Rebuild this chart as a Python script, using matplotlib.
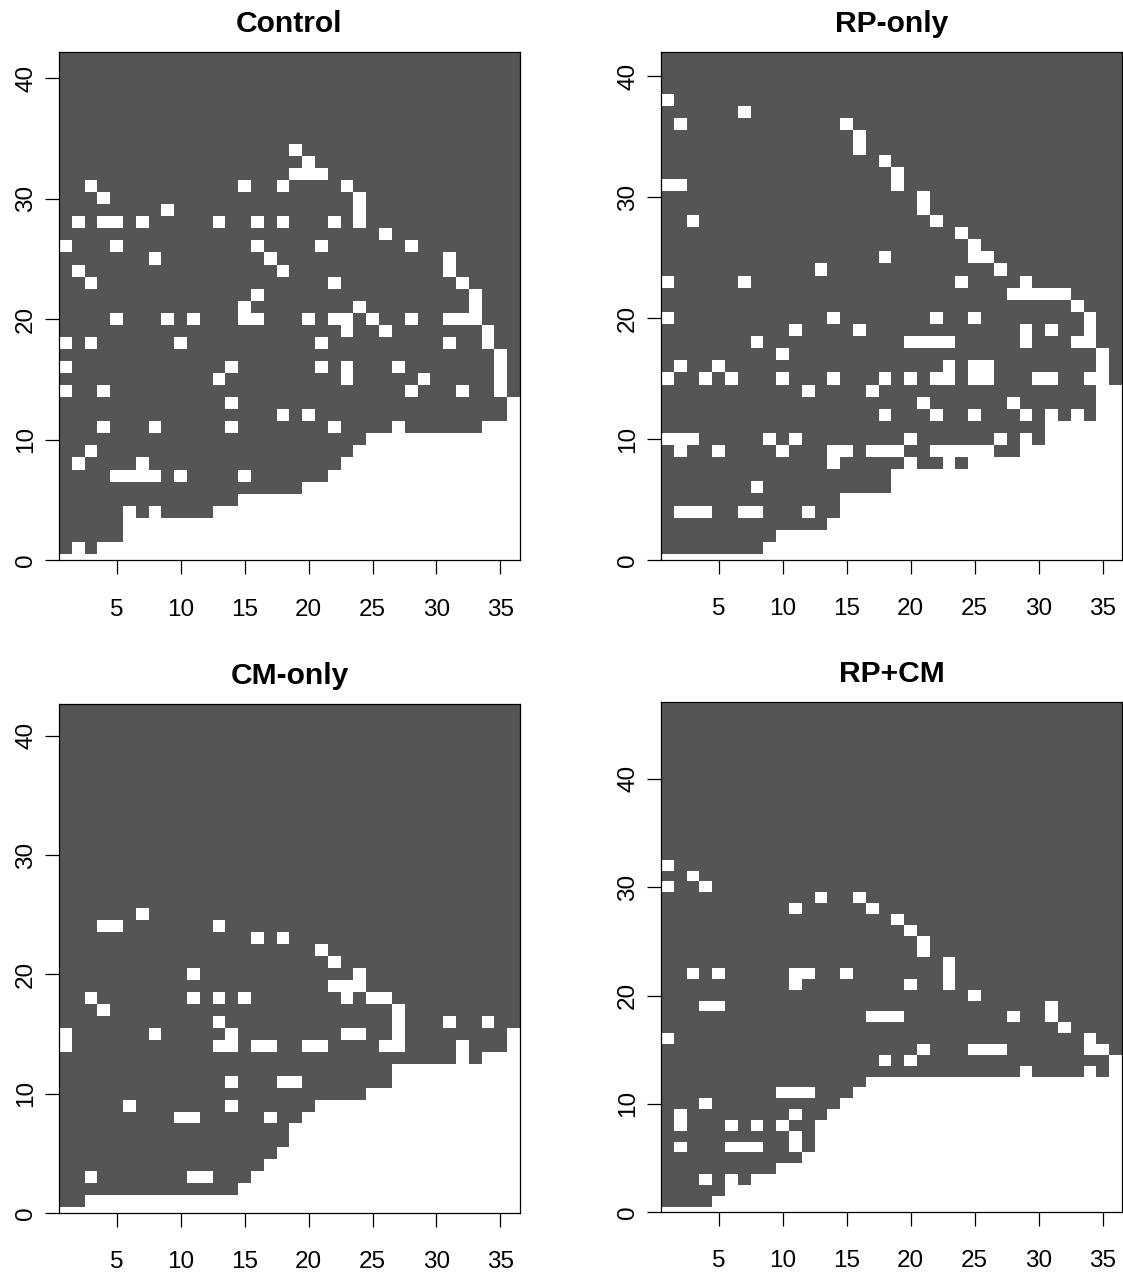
import numpy as np
import matplotlib
matplotlib.use('Agg')
import matplotlib.pyplot as plt
from matplotlib.colors import ListedColormap

plt.rcParams['font.family'] = ['Liberation Sans', 'DejaVu Sans']

# ---------------- data ----------------
titles = ['Control', 'RP-only', 'CM-only', 'RP+CM']
columns = list(range(1, 37))
x_ticks = [5, 10, 15, 20, 25, 30, 35]
y_ticks = [0, 10, 20, 30, 40]

# lowest dark row of each column (rows below it are white)
control_floor = [1, 2, 1, 2, 2, 5, 4, 5, 4, 4, 4, 4, 5, 5, 6, 6, 6, 6,
                 6, 7, 7, 8, 9, 10, 11, 11, 12, 11, 11, 11, 11, 11, 11, 12, 12, 14]
# white cells inside the dark region: column -> rows
control_holes = {
    1: [14, 16, 18, 26], 2: [8, 24, 28], 3: [9, 18, 23, 31], 4: [11, 14, 28, 30],
    5: [7, 20, 26, 28], 6: [7], 7: [7, 8, 28], 8: [7, 11, 25], 9: [20, 29],
    10: [7, 18], 11: [20], 13: [15, 28], 14: [11, 13, 16], 15: [7, 20, 21, 31],
    16: [20, 22, 26, 28], 17: [25], 18: [12, 24, 28, 31], 19: [32, 34],
    20: [12, 20, 32, 33], 21: [16, 18, 26, 32], 22: [11, 20, 23, 28],
    23: [15, 16, 19, 20, 31], 24: [21, 28, 29, 30], 25: [20], 26: [19, 27],
    27: [16], 28: [14, 20, 26], 29: [15], 31: [18, 20, 24, 25], 32: [14, 20, 23],
    33: [20, 21, 22], 34: [18, 19], 35: [14, 15, 16, 17],
}

rp_floor = [1, 1, 1, 1, 1, 1, 1, 1, 2, 3, 3, 3, 3, 4, 6, 6, 6, 6,
            8, 9, 8, 8, 10, 8, 10, 10, 9, 9, 11, 10, 13, 12, 13, 12, 18, 15]
rp_holes = {
    1: [10, 15, 20, 23, 31, 38], 2: [4, 9, 10, 16, 31, 36], 3: [4, 10, 28],
    4: [4, 15], 5: [9, 16], 6: [15], 7: [4, 23, 37], 8: [4, 6, 18], 9: [10],
    10: [9, 15, 17], 11: [10, 19], 12: [4, 14], 13: [24], 14: [8, 9, 15, 20],
    15: [9, 36], 16: [19, 34, 35], 17: [9, 14], 18: [9, 12, 15, 25, 33],
    19: [9, 31, 32], 20: [10, 15, 18], 21: [13, 18, 29, 30],
    22: [9, 12, 15, 18, 20, 28], 23: [15, 16, 18], 24: [9, 23, 27],
    25: [12, 15, 16, 20, 25, 26], 26: [15, 16, 25], 27: [10, 24], 28: [13, 22],
    29: [12, 18, 19, 22, 23], 30: [15, 22], 31: [15, 19, 22], 32: [22],
    33: [18, 21], 34: [15, 18, 19, 20],
}

cm_floor = [1, 1, 2, 2, 2, 2, 2, 2, 2, 2, 2, 2, 2, 2, 3, 4, 5, 6,
            8, 9, 10, 10, 10, 10, 11, 11, 13, 13, 13, 13, 13, 15, 13, 14, 14, 16]
cm_holes = {
    1: [14, 15], 3: [3, 18], 4: [17, 24], 5: [24], 6: [9], 7: [25], 8: [15],
    10: [8], 11: [3, 8, 18, 20], 12: [3], 13: [14, 16, 18, 24], 14: [9, 11, 14, 15],
    15: [18], 16: [14, 23], 17: [8, 14], 18: [11, 23], 19: [11], 20: [14],
    21: [14, 22], 22: [19, 21], 23: [15, 18, 19], 24: [15, 19, 20], 25: [18],
    26: [14, 18], 27: [14, 15, 16, 17], 31: [16], 34: [16],
}

rpcm_floor = [1, 1, 1, 1, 2, 4, 3, 4, 4, 5, 5, 6, 9, 10, 11, 12, 13, 13,
              13, 13, 13, 13, 13, 13, 13, 13, 13, 13, 14, 13, 13, 13, 13, 14, 13, 15]
rpcm_holes = {
    1: [16, 30, 32], 2: [6, 8, 9], 3: [22, 31], 4: [3, 10, 19, 30], 5: [19, 22],
    6: [6, 8], 7: [6], 8: [6, 8], 10: [8, 11], 11: [6, 7, 9, 11, 21, 22, 28],
    12: [11, 22], 13: [29], 15: [22], 16: [29], 17: [18, 28], 18: [14, 18],
    19: [18, 27], 20: [14, 21, 26], 21: [15, 24, 25], 23: [21, 22, 23],
    25: [15, 20], 26: [15], 27: [15], 28: [18], 31: [18, 19], 32: [17],
    34: [15, 16], 35: [15],
}

# upper limit of each panel's y axis
y_tops = [42.2, 42.05, 42.7, 47.05]

floors = [control_floor, rp_floor, cm_floor, rpcm_floor]
holes = [control_holes, rp_holes, cm_holes, rpcm_holes]

# ---------------- figure ----------------
W, H = 1123, 1277
fig = plt.figure(figsize=(W / 100, H / 100), dpi=100)

# panel boxes in pixels: left, top, right, bottom
boxes = [(59.3, 51.7, 519.6, 560.5),
         (661.4, 51.7, 1121.8, 560.3),
         (59.3, 703.5, 519.6, 1213.0),
         (661.4, 702.3, 1121.8, 1212.3)]

n_rows = 49
cmap = ListedColormap(['white', '#555555'])

for i in range(4):
    l, t, r, b = boxes[i]
    ax = fig.add_axes([l / W, 1 - b / H, (r - l) / W, (b - t) / H])
    grid = np.zeros((n_rows, len(columns)))
    for ci, c in enumerate(columns):
        grid[floors[i][ci]:, ci] = 1
        for rr in holes[i].get(c, []):
            grid[rr, ci] = 0
    ax.imshow(grid, origin='lower', extent=(0.5, 36.5, -0.5, n_rows - 0.5),
              aspect='auto', interpolation='nearest', cmap=cmap, vmin=0, vmax=1)
    ax.set_xlim(0.5, 36.5)
    ax.set_ylim(0, y_tops[i])
    ax.set_xticks(x_ticks)
    ax.set_yticks(y_ticks)
    ax.tick_params(direction='out', length=10, width=0.9, labelsize=17.5, color='black')
    ax.tick_params(axis='x', pad=17.5)
    ax.tick_params(axis='y', pad=6, labelrotation=90)
    for lab in ax.get_yticklabels():
        lab.set_va('center')
    for sp in ax.spines.values():
        sp.set_linewidth(0.9)
        sp.set_color('black')
    ax.set_title(titles[i], fontsize=21.6, fontweight='bold', pad=14.4)

fig.savefig('out.png', dpi=100)
